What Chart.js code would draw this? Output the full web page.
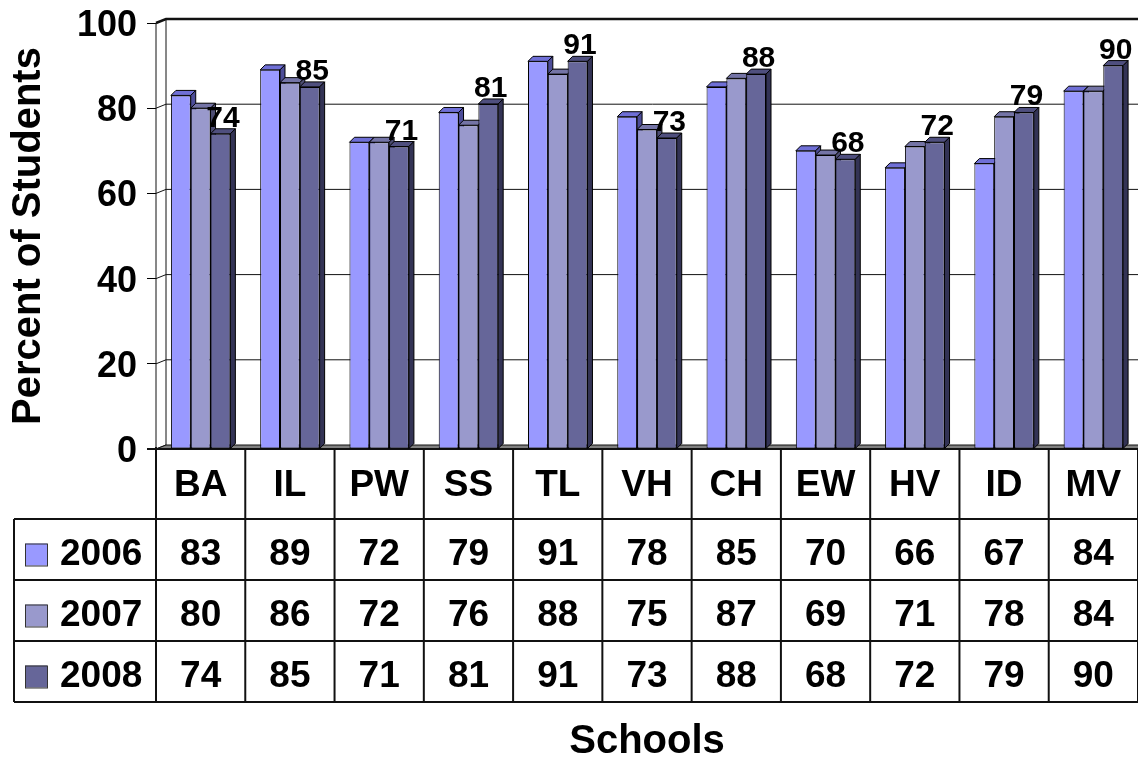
<!DOCTYPE html>
<html>
<head>
<meta charset="utf-8">
<script src="https://cdn.jsdelivr.net/npm/chart.js@4.4.1/dist/chart.umd.min.js"></script>
<style>
  html, body { margin: 0; padding: 0; background: #fff; }
  #wrap { width: 1138px; height: 758px; }
</style>
</head>
<body>
<div id="wrap"><canvas id="c" width="1138" height="758"></canvas></div>
<script>
/* Daten */
const schools = ["BA", "IL", "PW", "SS", "TL", "VH", "CH", "EW", "HV", "ID", "MV"];
const years = ["2006", "2007", "2008"];
const v2006 = [83, 89, 72, 79, 91, 78, 85, 70, 66, 67, 84];
const v2007 = [80, 86, 72, 76, 88, 75, 87, 69, 71, 78, 84];
const v2008 = [74, 85, 71, 81, 91, 73, 88, 68, 72, 79, 90];
const yTicks = [0, 20, 40, 60, 80, 100];

const FONT = "'Liberation Sans', Arial, sans-serif";
const FRONT = ["#9999FF", "#9999CC", "#666699"];
const TOPF = ["#6F6FD6", "#7474A6", "#4F4F7E"];
const SIDE = ["#4D4D99", "#4D4D73", "#333355"];
const LINE = "#111";

const WALL = { dx: 10, dy: -4 };   // Tiefe der Wände
const BAR = { dx: 5, dy: -5 };     // Tiefe der Säulen
const HEAD_H = 70, ROW_H = 61, TABLE_LEFT = 14;

Chart.defaults.font.family = FONT;
Chart.defaults.color = "#000";

function poly(ctx, pts, fill, stroke, lw) {
  ctx.beginPath();
  ctx.moveTo(pts[0][0], pts[0][1]);
  for (let i = 1; i < pts.length; i++) ctx.lineTo(pts[i][0], pts[i][1]);
  ctx.closePath();
  if (fill) { ctx.fillStyle = fill; ctx.fill(); }
  if (stroke) { ctx.strokeStyle = stroke; ctx.lineWidth = lw || 1; ctx.stroke(); }
}

/* Wände, Boden, Gitter und 3D-Flächen der Säulen */
const box3d = {
  id: "box3d",
  beforeDatasetsDraw(chart) {
    const ctx = chart.ctx;
    const y = chart.scales.y;
    const { left, right } = chart.chartArea;
    const top = y.getPixelForValue(100), bottom = y.getPixelForValue(0);
    const W = WALL;
    ctx.save();
    // Rückwand
    poly(ctx, [[left + W.dx, top + W.dy], [right + W.dx, top + W.dy], [right + W.dx, bottom + W.dy], [left + W.dx, bottom + W.dy]], "#fff", null);
    // Seitenwand
    poly(ctx, [[left, top], [left + W.dx, top + W.dy], [left + W.dx, bottom + W.dy], [left, bottom]], "#fff", LINE, 1);
    // Boden
    poly(ctx, [[left, bottom], [right, bottom], [right + W.dx, bottom + W.dy], [left + W.dx, bottom + W.dy]], "#808080", LINE, 1);
    // Gitterlinien
    yTicks.forEach((t) => {
      if (t === 0) return;
      const py = y.getPixelForValue(t);
      ctx.beginPath();
      ctx.moveTo(left, py);
      ctx.lineTo(left + W.dx, py + W.dy);
      ctx.lineTo(right + W.dx, py + W.dy);
      ctx.strokeStyle = LINE;
      ctx.lineWidth = t === 100 ? 2.5 : 1;
      ctx.stroke();
    });
    // vordere Bodenkante
    ctx.beginPath();
    ctx.moveTo(left - 9, bottom);
    ctx.lineTo(right, bottom);
    ctx.strokeStyle = LINE;
    ctx.lineWidth = 2;
    ctx.stroke();

    // Deckel und Seitenflächen, links nach rechts
    const metas = [0, 1, 2].map((i) => chart.getDatasetMeta(i));
    for (let j = 0; j < schools.length; j++) {
      metas.forEach((m, i) => {
        const e = m.data[j];
        const l = e.x - e.width / 2, r = e.x + e.width / 2, t = e.y, b = e.base;
        poly(ctx, [[l, t], [r, t], [r + BAR.dx, t + BAR.dy], [l + BAR.dx, t + BAR.dy]], TOPF[i], "#000", 1);
        poly(ctx, [[r, t], [r + BAR.dx, t + BAR.dy], [r + BAR.dx, b + BAR.dy], [r, b]], SIDE[i], "#000", 1);
      });
    }
    ctx.restore();
  },
  afterDatasetsDraw(chart) {
    // Werte nur für 2008
    const ctx = chart.ctx;
    const meta = chart.getDatasetMeta(2);
    ctx.save();
    ctx.font = `bold 30px ${FONT}`;
    ctx.fillStyle = "#000";
    ctx.textAlign = "center";
    ctx.textBaseline = "alphabetic";
    meta.data.forEach((e, j) => {
      ctx.fillText(String(v2008[j]), e.x + BAR.dx / 2, e.y + BAR.dy - 2);
    });
    ctx.restore();
  },
};

/* Datentabelle unter dem Diagramm */
const dataTable = {
  id: "dataTable",
  afterDraw(chart) {
    const ctx = chart.ctx;
    const xs = chart.scales.x;
    const { left, right } = chart.chartArea;
    const top = chart.scales.y.getPixelForValue(0);
    const colW = xs.width / schools.length;
    const rowsY = [top + HEAD_H, top + HEAD_H + ROW_H, top + HEAD_H + 2 * ROW_H, top + HEAD_H + 3 * ROW_H];
    const series = [v2006, v2007, v2008];
    ctx.save();
    ctx.strokeStyle = LINE;
    ctx.lineWidth = 2;
    // horizontale Linien
    rowsY.forEach((ry) => {
      ctx.beginPath();
      ctx.moveTo(TABLE_LEFT, ry);
      ctx.lineTo(right, ry);
      ctx.stroke();
    });
    // linke Kante
    ctx.beginPath();
    ctx.moveTo(TABLE_LEFT, rowsY[0]);
    ctx.lineTo(TABLE_LEFT, rowsY[3]);
    ctx.stroke();
    // Spaltenlinien
    for (let j = 0; j <= schools.length; j++) {
      const cx = left + j * colW;
      ctx.beginPath();
      ctx.moveTo(cx, j === 0 ? top - 2 : top);
      ctx.lineTo(cx, rowsY[3] + 1);
      ctx.stroke();
    }
    ctx.fillStyle = "#000";
    ctx.font = `bold 37px ${FONT}`;
    ctx.textAlign = "center";
    ctx.textBaseline = "middle";
    schools.forEach((s, j) => {
      ctx.fillText(s, xs.getPixelForValue(j), top + HEAD_H / 2 + 2);
    });
    series.forEach((vals, i) => {
      const cy = rowsY[i] + ROW_H / 2 + 5;
      ctx.textAlign = "center";
      vals.forEach((v, j) => ctx.fillText(String(v), xs.getPixelForValue(j), cy));
      // Legendenschlüssel
      ctx.fillStyle = FRONT[i];
      ctx.fillRect(25, cy - 11, 22, 22);
      ctx.lineWidth = 1;
      ctx.strokeStyle = "#333";
      ctx.strokeRect(25.5, cy - 10.5, 22, 22);
      ctx.fillStyle = "#000";
      ctx.textAlign = "left";
      ctx.fillText(years[i], 60, cy);
    });
    // Achsentitel unten
    ctx.font = `bold 40px ${FONT}`;
    ctx.textAlign = "center";
    ctx.fillText("Schools", (left + right) / 2, 742);
    ctx.restore();
  },
};

new Chart(document.getElementById("c"), {
  type: "bar",
  data: {
    labels: schools,
    datasets: [v2006, v2007, v2008].map((d, i) => ({
      label: years[i],
      data: d,
      backgroundColor: FRONT[i],
      borderColor: "#000",
      borderWidth: 1,
      borderSkipped: false,
      barPercentage: 1,
      categoryPercentage: 0.666,
    })),
  },
  options: {
    responsive: false,
    animation: false,
    devicePixelRatio: 1,
    layout: { padding: { left: 0, top: 23, right: -9, bottom: 309 } },
    plugins: { legend: { display: false }, tooltip: { enabled: false } },
    scales: {
      x: { display: false },
      y: {
        min: 0,
        max: 100,
        afterFit(s) { s.width = 156; s.paddingTop = 0; s.paddingBottom = 0; },
        afterBuildTicks(s) { s.ticks = yTicks.map((v) => ({ value: v })); },
        ticks: { color: "#000", font: { size: 36, weight: "bold" }, padding: 10, labelOffset: 3 },
        grid: { drawOnChartArea: false, drawTicks: true, tickLength: 9, color: "#000", lineWidth: 1 },
        border: { display: true, color: "#000", width: 1 },
        title: {
          display: true,
          text: "Percent of Students",
          color: "#000",
          font: { size: 40, weight: "bold" },
          padding: { top: 5, bottom: 0 },
        },
      },
    },
  },
  plugins: [box3d, dataTable],
});
</script>
</body>
</html>
